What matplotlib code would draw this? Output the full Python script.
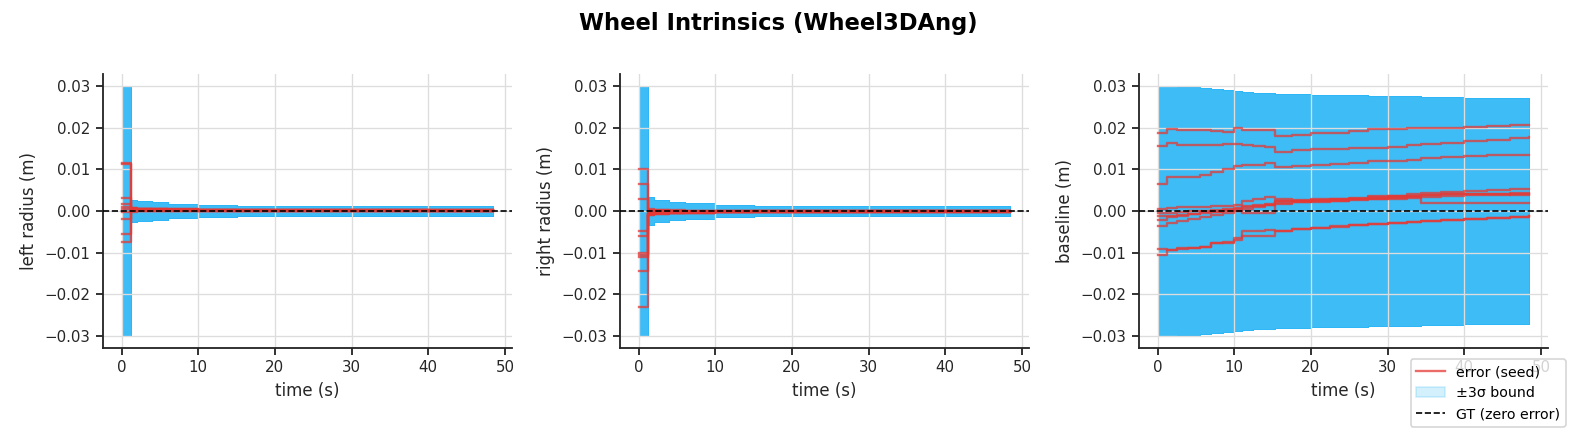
import matplotlib
matplotlib.use("Agg")
import matplotlib.pyplot as plt
from matplotlib.patches import Patch
from matplotlib.lines import Line2D

# --- datos ---
# radios: nudos de tiempo (s)
t_radius = [0.0, 1.2, 2.0, 4.0, 6.0, 10.0, 15.0, 20.0, 30.0, 40.0, 48.5]

# cota 3 sigma (m)
sig3_left = [0.030, 0.0027, 0.0024, 0.0021, 0.0018, 0.0015, 0.0013, 0.0012, 0.0011, 0.0011, 0.0011]
sig3_right = [0.030, 0.0033, 0.0026, 0.0022, 0.0019, 0.0015, 0.0013, 0.0012, 0.0011, 0.0011, 0.0011]

# error por semilla, radio izquierdo (m)
err_left = [
    [0.0115, 0.0008, 0.0006, 0.0005, 0.0004, 0.0003, 0.0003, 0.0003, 0.0002, 0.0002, 0.0002],
    [0.0114, 0.0006, 0.0005, 0.0004, 0.0003, 0.0003, 0.0002, 0.0002, 0.0002, 0.0002, 0.0002],
    [0.0031, 0.0004, 0.0004, 0.0003, 0.0003, 0.0002, 0.0002, 0.0002, 0.0002, 0.0001, 0.0001],
    [0.0018, 0.0002, 0.0002, 0.0002, 0.0002, 0.0001, 0.0001, 0.0001, 0.0001, 0.0001, 0.0001],
    [0.0010, 0.0001, 0.0001, 0.0001, 0.0001, 0.0001, 0.0001, 0.0001, 0.0001, 0.0001, 0.0001],
    [-0.0002, -0.0002, -0.0001, -0.0001, 0.0000, 0.0000, 0.0000, 0.0000, 0.0000, 0.0000, 0.0000],
    [-0.0019, 0.0005, 0.0004, 0.0004, 0.0003, 0.0003, 0.0002, 0.0002, 0.0002, 0.0002, 0.0002],
    [-0.0056, 0.0003, 0.0003, 0.0002, 0.0002, 0.0002, 0.0001, 0.0001, 0.0001, 0.0001, 0.0001],
    [-0.0074, -0.0001, -0.0001, 0.0000, 0.0000, 0.0000, 0.0000, 0.0000, 0.0000, 0.0000, 0.0000],
    [0.0005, 0.0007, 0.0006, 0.0005, 0.0004, 0.0003, 0.0003, 0.0002, 0.0002, 0.0002, 0.0002],
]

# error por semilla, radio derecho (m)
err_right = [
    [0.0102, 0.0005, 0.0003, 0.0002, 0.0001, 0.0000, 0.0000, 0.0000, 0.0000, 0.0000, 0.0000],
    [0.0065, 0.0003, 0.0002, 0.0001, 0.0001, 0.0000, 0.0000, 0.0000, 0.0000, 0.0000, 0.0000],
    [0.0030, 0.0001, 0.0000, 0.0000, 0.0000, 0.0000, -0.0001, -0.0001, -0.0001, -0.0001, -0.0001],
    [-0.0047, -0.0004, -0.0003, -0.0002, -0.0002, -0.0001, -0.0001, -0.0001, -0.0001, -0.0001, -0.0001],
    [-0.0060, -0.0006, -0.0005, -0.0004, -0.0003, -0.0002, -0.0002, -0.0002, -0.0002, -0.0002, -0.0002],
    [-0.0102, -0.0008, -0.0006, -0.0005, -0.0004, -0.0003, -0.0002, -0.0002, -0.0002, -0.0002, -0.0002],
    [-0.0110, -0.0010, -0.0008, -0.0006, -0.0005, -0.0003, -0.0003, -0.0002, -0.0002, -0.0002, -0.0002],
    [-0.0144, -0.0007, -0.0006, -0.0004, -0.0003, -0.0002, -0.0002, -0.0002, -0.0001, -0.0001, -0.0001],
    [-0.0232, -0.0009, -0.0007, -0.0005, -0.0004, -0.0003, -0.0003, -0.0002, -0.0002, -0.0002, -0.0002],
    [-0.0105, -0.0005, -0.0004, -0.0003, -0.0002, -0.0002, -0.0001, -0.0001, -0.0001, -0.0001, -0.0001],
]

# baseline: nudos de tiempo (s)
t_base = [0.0, 1.2, 2.5, 4.0, 5.5, 7.0, 8.5, 10.0, 11.0, 12.5, 14.0, 15.3, 17.5,
          20.0, 22.5, 25.0, 27.5, 30.0, 32.5, 34.3, 37.0, 40.0, 43.0, 46.0, 48.5]

sig3_base = [0.0300, 0.0300, 0.0299, 0.0298, 0.0296, 0.0294, 0.0292, 0.0290, 0.0286, 0.0285,
             0.0285, 0.0282, 0.0281, 0.0280, 0.0279, 0.0279, 0.0278, 0.0277, 0.0276, 0.0274,
             0.0274, 0.0273, 0.0272, 0.0271, 0.0271]

err_base = [
    [0.0187, 0.0197, 0.0196, 0.0196, 0.0196, 0.0192, 0.0190, 0.0199, 0.0196, 0.0196, 0.0195, 0.0181, 0.0184,
     0.0187, 0.0189, 0.0192, 0.0197, 0.0198, 0.0199, 0.0199, 0.0201, 0.0203, 0.0205, 0.0206, 0.0207],
    [0.0157, 0.0163, 0.0160, 0.0159, 0.0158, 0.0160, 0.0161, 0.0161, 0.0158, 0.0156, 0.0155, 0.0143, 0.0146,
     0.0149, 0.0150, 0.0151, 0.0151, 0.0155, 0.0158, 0.0161, 0.0164, 0.0168, 0.0172, 0.0175, 0.0179],
    [0.0065, 0.0082, 0.0082, 0.0083, 0.0086, 0.0094, 0.0100, 0.0108, 0.0110, 0.0112, 0.0115, 0.0106, 0.0108,
     0.0110, 0.0113, 0.0116, 0.0120, 0.0121, 0.0123, 0.0128, 0.0130, 0.0132, 0.0134, 0.0135, 0.0136],
    [0.0006, 0.0008, 0.0009, 0.0009, 0.0010, 0.0012, 0.0013, 0.0015, 0.0025, 0.0030, 0.0034, 0.0028, 0.0027,
     0.0028, 0.0030, 0.0032, 0.0035, 0.0037, 0.0040, 0.0044, 0.0046, 0.0048, 0.0050, 0.0052, 0.0054],
    [-0.0006, -0.0004, -0.0003, -0.0001, 0.0000, 0.0002, 0.0004, 0.0006, 0.0009, 0.0012, 0.0015, 0.0024, 0.0025,
     0.0026, 0.0028, 0.0030, 0.0032, 0.0034, 0.0036, 0.0038, 0.0040, 0.0041, 0.0042, 0.0043, 0.0044],
    [-0.0013, -0.0011, -0.0010, -0.0008, -0.0006, -0.0002, 0.0002, 0.0008, 0.0012, 0.0015, 0.0018, 0.0020, 0.0022,
     0.0023, 0.0025, 0.0027, 0.0029, 0.0030, 0.0032, 0.0034, 0.0036, 0.0038, 0.0039, 0.0040, 0.0040],
    [-0.0021, -0.0015, -0.0012, -0.0008, -0.0003, -0.0003, 0.0000, 0.0000, -0.0005, -0.0005, -0.0005, 0.0025, 0.0023,
     0.0022, 0.0025, 0.0028, 0.0030, 0.0032, 0.0034, 0.0020, 0.0020, 0.0020, 0.0019, 0.0019, 0.0019],
    [-0.0035, -0.0028, -0.0024, -0.0020, -0.0015, -0.0010, -0.0005, 0.0000, 0.0006, 0.0010, 0.0014, 0.0018, 0.0021,
     0.0024, 0.0027, 0.0030, 0.0033, 0.0035, 0.0037, 0.0039, 0.0041, 0.0042, 0.0041, 0.0039, 0.0038],
    [-0.0091, -0.0093, -0.0090, -0.0088, -0.0086, -0.0078, -0.0076, -0.0071, -0.0047, -0.0047, -0.0046, -0.0047, -0.0044,
     -0.0040, -0.0037, -0.0034, -0.0032, -0.0029, -0.0026, -0.0024, -0.0022, -0.0019, -0.0016, -0.0014, -0.0012],
    [-0.0107, -0.0095, -0.0092, -0.0089, -0.0087, -0.0077, -0.0075, -0.0065, -0.0060, -0.0060, -0.0060, -0.0048, -0.0044,
     -0.0041, -0.0038, -0.0034, -0.0032, -0.0029, -0.0026, -0.0024, -0.0022, -0.0020, -0.0017, -0.0015, -0.0013],
]

paneles = [
    ("left radius (m)", t_radius, sig3_left, err_left),
    ("right radius (m)", t_radius, sig3_right, err_right),
    ("baseline (m)", t_base, sig3_base, err_base),
]

COLOR_ERR = "#e53935"
COLOR_BND = "#29b6f6"
TXT = "#262626"

plt.rcParams.update({
    "font.size": 9,
    "axes.edgecolor": TXT,
    "axes.labelcolor": TXT,
    "xtick.color": TXT,
    "ytick.color": TXT,
    "axes.linewidth": 1.1,
    "xtick.major.width": 1.1,
    "ytick.major.width": 1.1,
    "xtick.major.size": 4,
    "ytick.major.size": 4,
})

fig = plt.figure(figsize=(1579 / 120, 434 / 120), dpi=120)
lefts = [103, 620, 1139]
W, H = 1579.0, 434.0

for (ylabel, t, sig3, errs), lx in zip(paneles, lefts):
    ax = fig.add_axes([lx / W, 1 - 348 / H, 409 / W, 274 / H])
    neg = [-s for s in sig3]
    for e in errs:
        # una banda por semilla, se superponen
        ax.fill_between(t, neg, sig3, step="post", color=COLOR_BND, alpha=0.2, linewidth=0.6)
        ax.plot(t, e, drawstyle="steps-post", color=COLOR_ERR, alpha=0.75, lw=1.4)
    ax.axhline(0, color="black", ls="--", lw=1.0, zorder=3)
    ax.set_yticks([-0.03, -0.02, -0.01, 0.0, 0.01, 0.02, 0.03])
    ax.set_xticks([0, 10, 20, 30, 40, 50])
    ax.set_xlabel("time (s)", fontsize=10)
    ax.set_ylabel(ylabel, fontsize=10)
    ax.grid(True, color="#dddddd", lw=0.8)
    ax.spines["top"].set_visible(False)
    ax.spines["right"].set_visible(False)

fig.suptitle("Wheel Intrinsics (Wheel3DAng)", fontsize=13.6, fontweight="bold", x=778 / W, y=1 - 12 / H, va="top")

handles = [
    Line2D([0], [0], color=COLOR_ERR, alpha=0.75, lw=1.4, label="error (seed)"),
    Patch(facecolor=COLOR_BND, alpha=0.2, edgecolor=COLOR_BND, label="±3σ bound"),
    Line2D([0], [0], color="black", ls="--", lw=1.0, label="GT (zero error)"),
]
fig.legend(handles=handles, loc="lower right", bbox_to_anchor=(0.996, 0.0), fontsize=8.5)

fig.savefig("out.png", dpi=120)
